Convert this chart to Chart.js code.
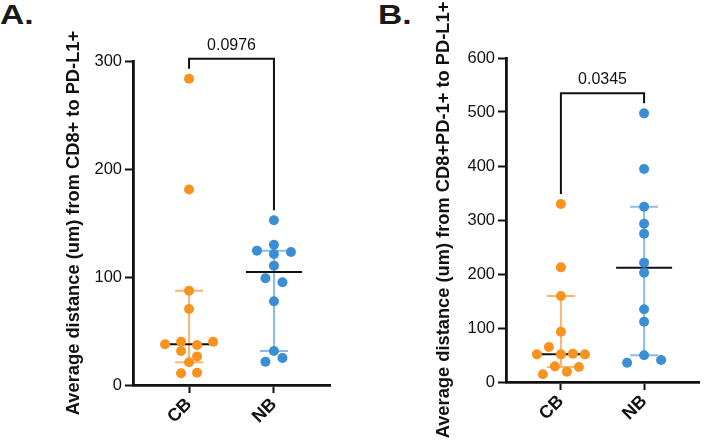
<!DOCTYPE html>
<html>
<head>
<meta charset="utf-8">
<title>Average distance CB vs NB</title>
<script src="https://cdn.jsdelivr.net/npm/chart.js@4.4.1/dist/chart.umd.min.js"></script>
<style>
	html, body { margin: 0; padding: 0; background: #fff; }
	body { position: relative; width: 704px; height: 440px; overflow: hidden; font-family: 'Liberation Sans', Arial, sans-serif; }
	canvas { position: absolute; top: 0; }
	#chartA { left: 0; }
	#chartB { left: 354px; }
	.panel-letter { position: absolute; top: 1px; margin: 0; font-size: 28px; font-weight: bold; line-height: 28px; color: #1a1a1a; transform: scaleX(1.2); transform-origin: left top; }
</style>
</head>
<body>
<div class="panel-letter" style="left:0">A.</div>
<div class="panel-letter" style="left:378px">B.</div>
<canvas id="chartA" width="352" height="440"></canvas>
<canvas id="chartB" width="350" height="440"></canvas>
<script>
// Values (um), in left-to-right order within each row of dots
const categories = ['CB', 'NB'];
const cd8_CB = [283.6, 181, 87.3, 70.4, 37.7, 40.1, 37, 40, 31.5, 26.5, 21, 10.8, 11.4];
const cd8_NB = [152.5, 129.9, 124.4, 121.3, 123.1, 110.5, 98.8, 95.1, 77.5, 31.5, 21.6, 25];
const cd8pd1_CB = [329.6, 212.3, 159.3, 93.2, 51.2, 64.8, 51.2, 52.5, 51.2, 14.2, 29, 19.1, 27.8];
const cd8pd1_NB = [497.5, 394.4, 324.7, 293.2, 274.7, 221, 202.5, 134.6, 111.7, 35.8, 49.4, 40.7];
const ticksA = [0, 100, 200, 300];
const ticksB = [0, 100, 200, 300, 400, 500, 600];
const pValueA = '0.0976';
const pValueB = '0.0345';
const titleA = 'Average distance (um) from CD8+ to PD-L1+';
const titleB = 'Average distance (um) from CD8+PD-1+ to PD-L1+';

const FONT = "'Liberation Sans', Arial, sans-serif";
const INK = '#111';
const dotColors = ['#f7931e', '#3b8ed4'];
const barColors = ['#fbb56f', '#8abce6'];

function median(s) {
	const n = s.length;
	return n % 2 ? s[(n - 1) / 2] : (s[n / 2 - 1] + s[n / 2]) / 2;
}

// ranks of the 95% CI of the median (binomial), 0-based
function ciIdx(n) {
	let c = 1, cum = 0;
	const total = Math.pow(2, n);
	for (let j = 0; j <= n; j++) {
		cum += c / total;
		if (cum > 0.025) return [j - 1, n - j];
		c = c * (n - j) / (j + 1);
	}
	return [0, n - 1];
}

function summary(vals) {
	const s = [...vals].sort((a, b) => a - b);
	const [lo, hi] = ciIdx(s.length);
	return { med: median(s), lo: s[lo], hi: s[hi] };
}

// Prism-like scatter: dots binned by height, spread symmetrically inside a bin
function swarm(chart, series) {
	const xs = chart.scales.x, ys = chart.scales.y;
	const pxPerX = xs.getPixelForValue(1) - xs.getPixelForValue(0);
	const range = ys.max - ys.min;
	const bin = range * 0.0332, phase = range * 0.0838;
	return series.map((vals, g) => {
		const rows = new Map();
		vals.forEach((v, i) => {
			const k = Math.floor((v - ys.min - phase) / bin);
			if (!rows.has(k)) rows.set(k, []);
			rows.get(k).push(i);
		});
		const maxRow = Math.max(...[...rows.values()].map(r => r.length));
		const gap = maxRow > 1 ? Math.min(17, 48 / (maxRow - 1)) : 17;
		const pts = [];
		rows.forEach(r => r.forEach((idx, j) => {
			const dx = (j - (r.length - 1) / 2) * gap;
			pts[idx] = { x: g + 1 + dx / pxPerX, y: vals[idx] };
		}));
		return pts;
	});
}

function axisGrid() {
	return { drawOnChartArea: false, drawTicks: true, tickLength: 8, tickWidth: 2, tickColor: INK };
}

function makePanel(id, series, ticks, title, pValue, opts) {
	const stats = series.map(summary);

	const extras = {
		id: 'panelExtras',
		beforeDatasetsDraw(chart) {
			const { ctx, scales: { x, y } } = chart;
			ctx.save();
			ctx.lineWidth = 2;
			stats.forEach((st, g) => {
				const cx = x.getPixelForValue(g + 1);
				const yl = y.getPixelForValue(st.lo), yh = y.getPixelForValue(st.hi), ym = y.getPixelForValue(st.med);
				ctx.strokeStyle = barColors[g];
				ctx.beginPath();
				ctx.moveTo(cx, yl); ctx.lineTo(cx, yh);
				ctx.moveTo(cx - 14, yl); ctx.lineTo(cx + 14, yl);
				ctx.moveTo(cx - 14, yh); ctx.lineTo(cx + 14, yh);
				ctx.stroke();
				ctx.strokeStyle = INK;
				ctx.beginPath();
				ctx.moveTo(cx - 28, ym); ctx.lineTo(cx + 28, ym);
				ctx.stroke();
			});
			ctx.restore();
		},
		afterDraw(chart) {
			const { ctx, chartArea, scales: { x, y } } = chart;
			ctx.save();
			// significance bracket
			const legs = series.map(vals => y.getPixelForValue(Math.max(...vals)) - 10);
			const barY = Math.min(...legs) - 10;
			const x1 = x.getPixelForValue(1), x2 = x.getPixelForValue(2);
			ctx.strokeStyle = INK;
			ctx.lineWidth = 2;
			ctx.lineJoin = 'miter';
			ctx.beginPath();
			ctx.moveTo(x1, legs[0]); ctx.lineTo(x1, barY); ctx.lineTo(x2, barY); ctx.lineTo(x2, legs[1]);
			ctx.stroke();
			ctx.fillStyle = INK;
			ctx.font = '16px ' + FONT;
			ctx.textAlign = 'center';
			ctx.textBaseline = 'alphabetic';
			ctx.fillText(pValue, (x1 + x2) / 2, barY - 9);
			// y axis title (drawn here so it is not squeezed to the axis height)
			ctx.translate(chartArea.left - opts.titleGap, (chartArea.top + chartArea.bottom) / 2);
			ctx.rotate(-Math.PI / 2);
			ctx.font = 'bold 18.3px ' + FONT;
			ctx.textBaseline = 'middle';
			ctx.fillText(title, 0, 0);
			ctx.restore();
		}
	};

	const chart = new Chart(document.getElementById(id), {
		type: 'scatter',
		data: {
			datasets: series.map((vals, g) => ({
				label: categories[g],
				data: vals.map(v => ({ x: g + 1, y: v })),
				backgroundColor: dotColors[g],
				borderWidth: 0,
				pointRadius: 5
			}))
		},
		options: {
			responsive: false,
			animation: false,
			events: [],
			layout: { padding: opts.padding },
			plugins: { legend: { display: false }, tooltip: { enabled: false } },
			scales: {
				x: {
					type: 'linear',
					min: 0.34,
					max: 2.66,
					afterBuildTicks: s => { s.ticks = categories.map((c, i) => ({ value: i + 1 })); },
					afterFit: s => { s.height = opts.xHeight; },
					ticks: {
						callback: v => categories[v - 1] || '',
						minRotation: 45,
						maxRotation: 45,
						padding: 1,
						color: INK,
						font: { family: FONT, size: 18, weight: 'bold' }
					},
					grid: axisGrid(),
					border: { display: true, color: INK, width: 2.8 }
				},
				y: {
					min: ticks[0],
					max: ticks[ticks.length - 1],
					afterBuildTicks: s => { s.ticks = ticks.map(v => ({ value: v })); },
					afterFit: s => { s.width = opts.yWidth; },
					ticks: { padding: 3, color: INK, font: { family: FONT, size: 16.5 } },
					grid: axisGrid(),
					border: { display: true, color: INK, width: 2.8 }
				}
			}
		},
		plugins: [extras]
	});

	// place the dots once the scales are known
	const pts = swarm(chart, series);
	chart.data.datasets.forEach((ds, g) => { ds.data = pts[g]; });
	chart.update('none');
	return chart;
}

makePanel('chartA', [cd8_CB, cd8_NB], ticksA, titleA, pValueA,
	{ padding: { left: 0, top: 61, right: 22, bottom: 0 }, yWidth: 133, xHeight: 55, titleGap: 59.5 });
makePanel('chartB', [cd8pd1_CB, cd8pd1_NB], ticksB, titleB, pValueB,
	{ padding: { left: 0, top: 58, right: 0, bottom: 0 }, yWidth: 152, xHeight: 58, titleGap: 62 });
</script>
</body>
</html>
